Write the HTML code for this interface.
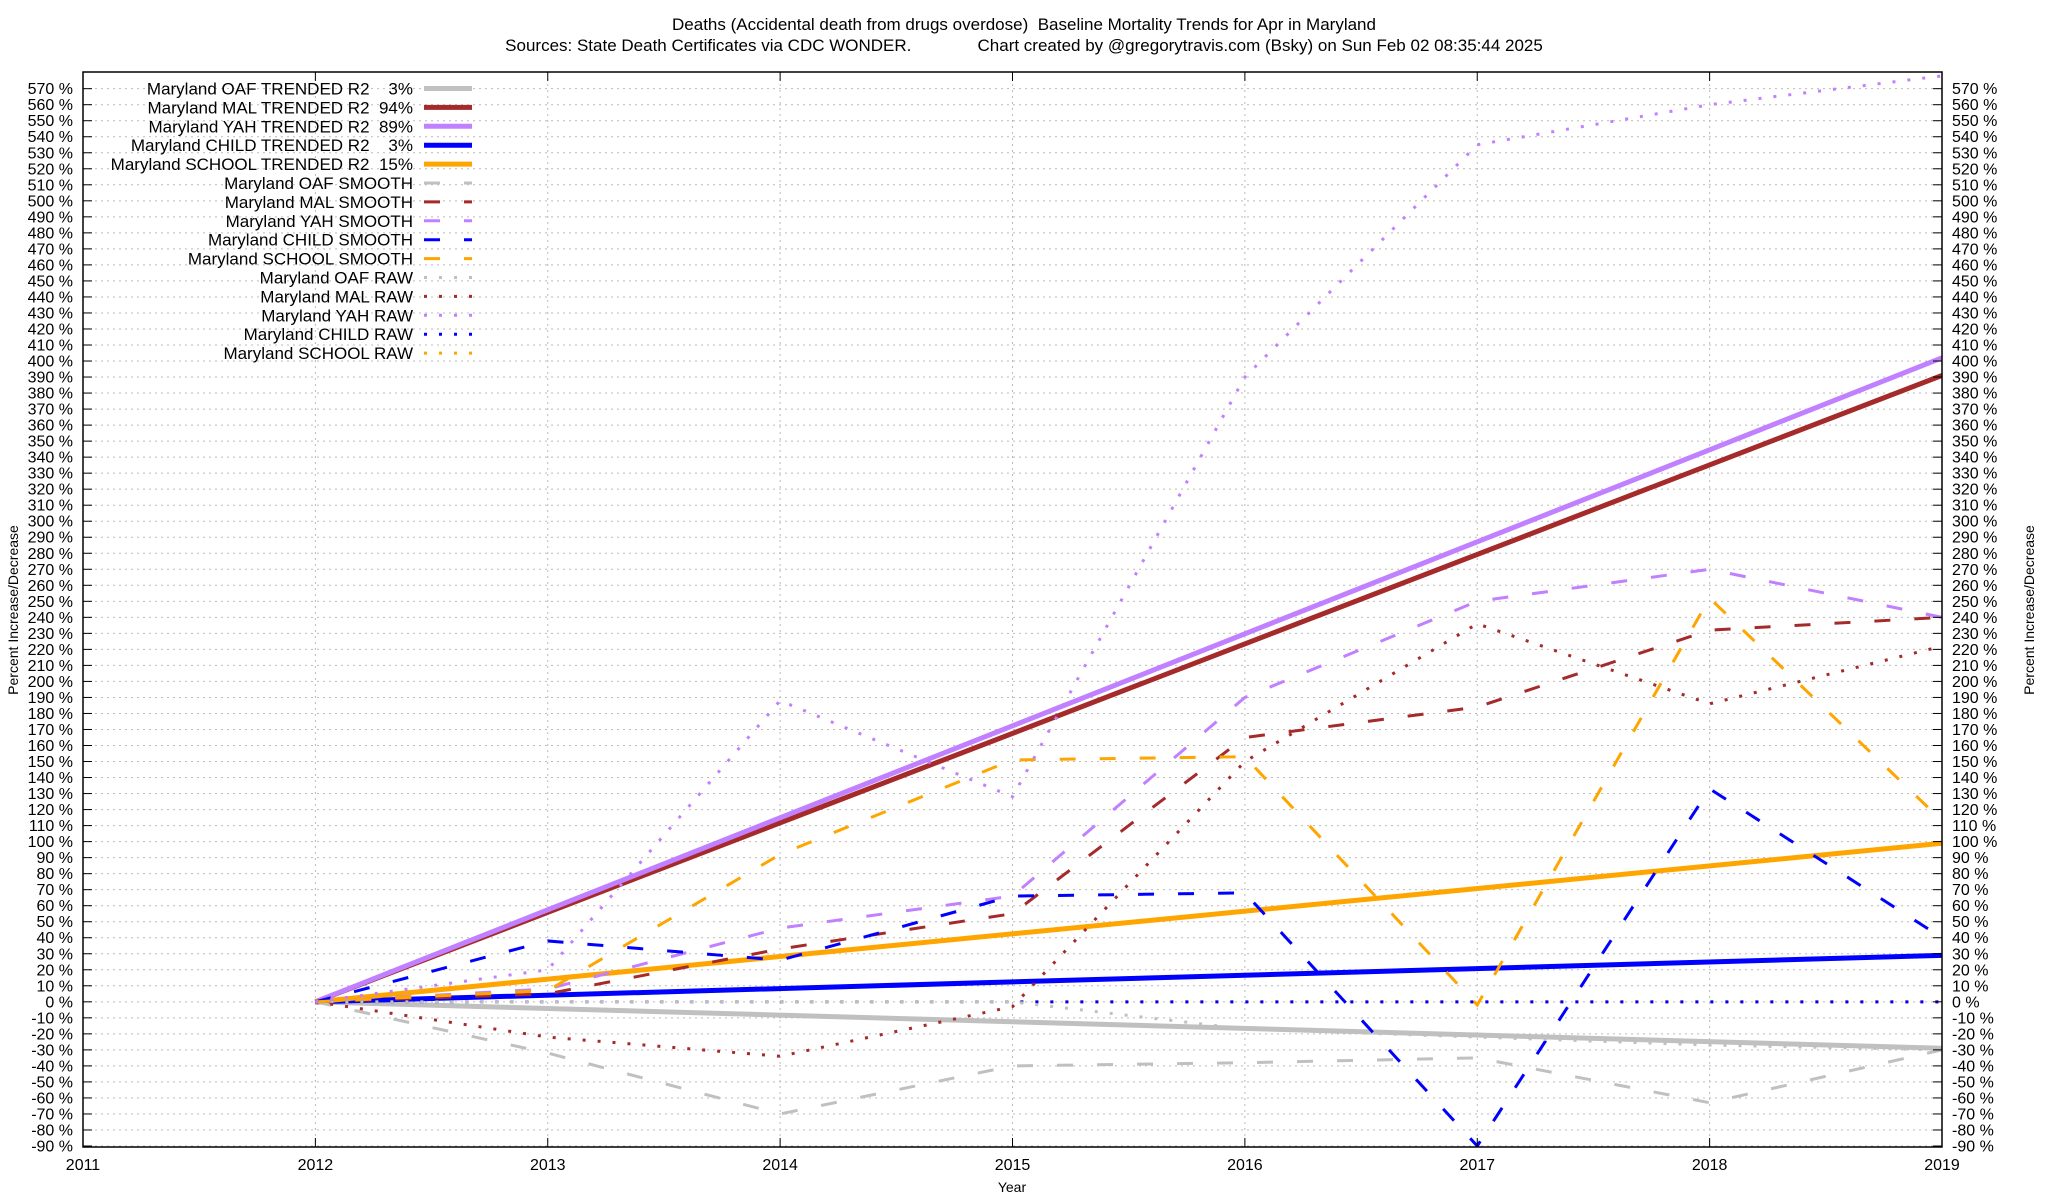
<!DOCTYPE html>
<html><head><meta charset="utf-8"><style>
html,body{margin:0;padding:0;background:#fff;}
svg{display:block;font-family:"Liberation Sans",Arial,sans-serif;}
#legend text{white-space:pre;}
</style></head><body>
<svg id="chart" width="2048" height="1200" viewBox="0 0 2048 1200" xmlns="http://www.w3.org/2000/svg">
<text x="1024" y="30" font-size="17" text-anchor="middle" style="white-space:pre">Deaths (Accidental death from drugs overdose)  Baseline Mortality Trends for Apr in Maryland</text>
<text x="1024" y="51" font-size="17" text-anchor="middle" style="white-space:pre">Sources: State Death Certificates via CDC WONDER.              Chart created by @gregorytravis.com (Bsky) on Sun Feb 02 08:35:44 2025</text>
<g id="grid"></g>
<g id="series"></g>
<rect x="83" y="72" width="1859" height="1075" fill="none" stroke="#000" stroke-width="1.5"/>
<g id="axes"></g>
<g id="legend"></g>
<text transform="translate(18,610) rotate(-90)" font-size="14" text-anchor="middle">Percent Increase/Decrease</text>
<text transform="translate(2034,610) rotate(-90)" font-size="14" text-anchor="middle">Percent Increase/Decrease</text>
<text x="1012" y="1192" font-size="14" text-anchor="middle">Year</text>
</svg>
<script>
const years = [2012, 2013, 2014, 2015, 2016, 2017, 2018, 2019];
const xTicks = [2011, 2012, 2013, 2014, 2015, 2016, 2017, 2018, 2019];
const trendNames = ["OAF", "MAL", "YAH", "CHILD", "SCHOOL"];
const trendR2 = ["3%", "94%", "89%", "3%", "15%"];
const trendEnd = [-29, 391, 402, 29, 99];
const oafSmooth = [0, -32, -70, -40, -38, -35, -63, -30];
const malSmooth = [0, 5, 33, 55, 165, 184, 232, 240];
const yahSmooth = [0, 8, 46, 66, 190, 250, 270, 240];
const childSmooth = [0, 38, 26, 66, 68, -90, 133, 40];
const schoolSmooth = [0, 7, 92, 151, 153, -2, 252, 113];
const oafRaw = [0, 0, 0, 0, -17, -22, -27, -30];
const malRaw = [0, -22, -34, -3, 150, 236, 186, 222];
const yahRaw = [0, 20, 188, 128, 390, 535, 560, 578];
const childRaw = [0, 0, 0, 0, 0, 0, 0, 0];
const schoolRaw = [0, 0, 0, 0, 0, 0, 0, 0];
const colors = ["#c0c0c0", "#a52a2a", "#c080ff", "#0000ff", "#ffa500"];

const NS = "http://www.w3.org/2000/svg";
const X0 = 83, X1 = 1942, Y0 = 1146, YPU = 1.602;
function xs(y){ return X0 + (y - 2011) * (X1 - X0) / 8; }
function ys(v){ return Y0 - (v + 90) * YPU; }
function mk(tag, attrs, parent){ const e = document.createElementNS(NS, tag); for (const k in attrs) e.setAttribute(k, attrs[k]); parent.appendChild(e); return e; }

const grid = document.getElementById("grid");
const axes = document.getElementById("axes");
for (let v = -90; v <= 570; v += 10) {
  const y = ys(v);
  const g = mk("line", {x1: X0, x2: X1, y1: y, y2: y, stroke: "#bbb", "stroke-width": 1, "stroke-dasharray": "2,4"}, grid);
  
  
  mk("line", {x1: X0, x2: X0 + 9, y1: y, y2: y, stroke: "#000"}, axes);
  mk("line", {x1: X1 - 9, x2: X1, y1: y, y2: y, stroke: "#000"}, axes);
  const t = mk("text", {x: X0 - 10, y: y + 5.5, "font-size": 16, "text-anchor": "end"}, axes);
  t.textContent = v + " %";
  
  
  const t2 = mk("text", {x: X1 + 10, y: y + 5.5, "font-size": 16}, axes);
  t2.textContent = v + " %";
  
  
}
xTicks.forEach(yr => {
  const x = xs(yr);
  const g = mk("line", {x1: x, x2: x, y1: 72, y2: 1147, stroke: "#bbb", "stroke-width": 1, "stroke-dasharray": "2,4"}, grid);
  
  
  mk("line", {x1: x, x2: x, y1: 1147, y2: 1138, stroke: "#000"}, axes);
  mk("line", {x1: x, x2: x, y1: 72, y2: 81, stroke: "#000"}, axes);
  const t = mk("text", {x: x, y: 1170, "font-size": 16, "text-anchor": "middle"}, axes);
  t.textContent = yr;
  
  
});

const series = document.getElementById("series");
const clip = mk("clipPath", {id: "pc"}, series);
mk("rect", {x: X0, y: 72, width: X1 - X0, height: 1075}, clip);
const layer = mk("g", {"clip-path": "url(#pc)"}, series);

trendNames.forEach((n, i) => {
  const l = mk("line", {x1: xs(2012), y1: ys(0), x2: xs(2019), y2: ys(trendEnd[i]), stroke: colors[i], "stroke-width": 5}, layer);
  
  
});
function poly(vals, color, dash, w, name){
  const pts = vals.map((v, i) => xs(years[i]) + "," + ys(v)).join(" ");
  const p = mk("polyline", {points: pts, fill: "none", stroke: color, "stroke-width": w, "stroke-dasharray": dash}, layer);
  
  
}
const smooths = [oafSmooth, malSmooth, yahSmooth, childSmooth, schoolSmooth];
smooths.forEach((s, i) => poly(s, colors[i], "16,24", 3, "smooth-line-" + trendNames[i].toLowerCase()));
poly(schoolRaw, colors[4], "3,12", 3, "raw-line-school");
poly(childRaw, colors[3], "3,12", 3, "raw-line-child");
poly(oafRaw, colors[0], "3,12", 3, "raw-line-oaf");
poly(malRaw, colors[1], "3,12", 3, "raw-line-mal");
poly(yahRaw, colors[2], "3,12", 3, "raw-line-yah");

const legend = document.getElementById("legend");
const labels = [];
trendNames.forEach((n, i) => labels.push(["Maryland " + n + " TRENDED R2  " + (trendR2[i].length < 3 ? "  " : "") + trendR2[i], colors[i], "", 5]));
trendNames.forEach((n, i) => labels.push(["Maryland " + n + " SMOOTH", colors[i], "16,24", 3]));
trendNames.forEach((n, i) => labels.push(["Maryland " + n + " RAW", colors[i], "3,12", 3]));
labels.forEach((L, i) => {
  const y = 88.5 + i * 18.9;
  const t = mk("text", {x: 413, y: y + 6, "font-size": 17, "text-anchor": "end"}, legend);
  t.textContent = L[0];
  
  
  const s = mk("line", {x1: 424, x2: 472, y1: y, y2: y, stroke: L[1], "stroke-width": L[3]}, legend);
  if (L[2]) s.setAttribute("stroke-dasharray", L[2]);
  
  
});
</script>
</body></html>
